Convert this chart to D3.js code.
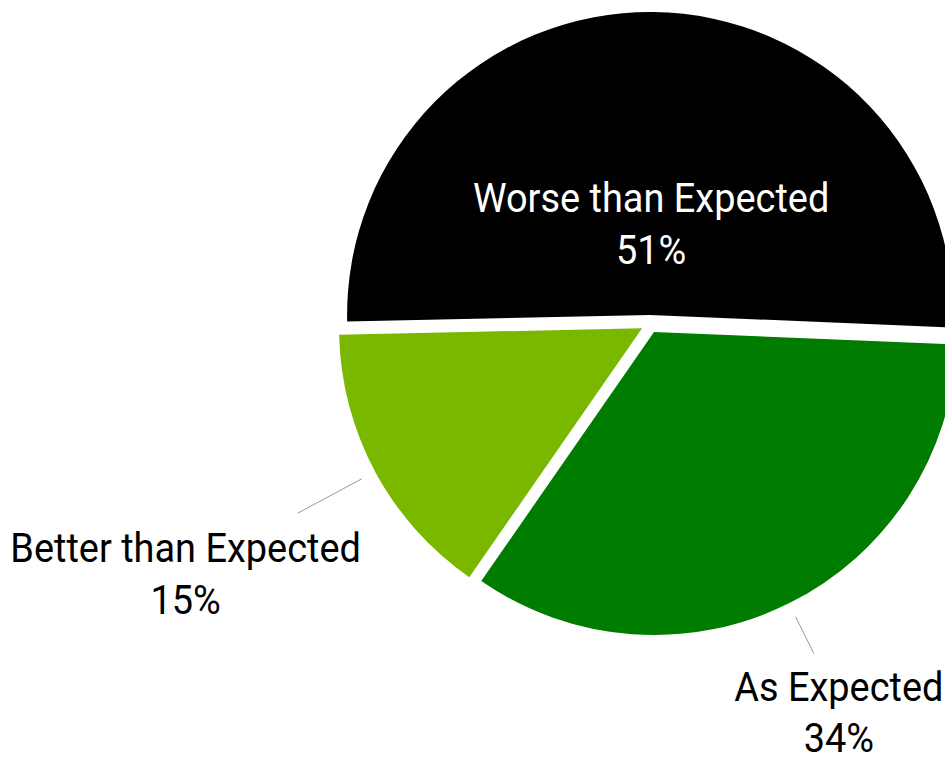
<!DOCTYPE html>
<html>
<head>
<meta charset="utf-8">
<script src="https://d3js.org/d3.v7.min.js"></script>
<style>
  body { margin: 0; background: #fff; }
  svg { display: block; }
</style>
</head>
<body>
<div id="pie-chart"></div>
<script>
// data
var categories = ["Worse than Expected", "As Expected", "Better than Expected"];
var shares = [51, 34, 15];
var colors = ["#000000", "#007c00", "#7ab800"];

var width = 945,
    height = 762;

var cx = 650, cy = 324,
    radius = 303,
    pull = 9,
    fontSize = 40,
    squeeze = 0.948;   // the original face is a little narrower than Roboto

var svg = d3.select("#pie-chart").append("svg")
    .attr("width", width)
    .attr("height", height)
    .style("font-family", "Roboto, sans-serif");

var pie = d3.pie()
    .sort(null)
    .value(function(d) { return d.value; })
    .startAngle(-91.24 * Math.PI / 180)
    .endAngle(268.76 * Math.PI / 180);

var arc = d3.arc()
    .innerRadius(0)
    .outerRadius(radius);

var data = categories.map(function(c, i) {
  return {name: c, value: shares[i], color: colors[i]};
});

var arcs = pie(data);

function midAngle(a) { return (a.startAngle + a.endAngle) / 2; }
function polar(r, ang) { return [Math.sin(ang) * r, -Math.cos(ang) * r]; }

var g = svg.append("g")
    .attr("transform", "translate(" + cx + "," + cy + ")");

var slice = g.selectAll(".slice")
    .data(arcs)
  .enter().append("g")
    .attr("class", "slice")
    .attr("transform", function(a) {
      var p = polar(pull, midAngle(a));
      return "translate(" + p[0] + "," + p[1] + ")";
    });

slice.append("path")
    .attr("d", arc)
    .style("fill", function(a) { return a.data.color; });

// inside label for the big slice, outside labels with leader lines for the rest
// [line start r, line end r, text dx, text dy]
var leader = {"As Expected": [327, 368, 25, 47], "Better than Expected": [327, 400, -112, 49]};

arcs.forEach(function(a) {
  var ang = midAngle(a);
  var lines = [a.data.name, a.data.value + "%"];
  var tx, ty, fill;
  if (leader[a.data.name]) {
    var L = leader[a.data.name];
    var p0 = polar(L[0], ang), p1 = polar(L[1], ang);
    g.append("line")
        .attr("x1", p0[0]).attr("y1", p0[1])
        .attr("x2", p1[0]).attr("y2", p1[1])
        .style("stroke", "#999")
        .style("stroke-width", 1);
    tx = p1[0] + L[2];
    ty = p1[1] + L[3];
    fill = "#000";
  } else {
    var p = polar(pull + 103, ang);
    tx = p[0];
    ty = p[1];
    fill = "#fff";
  }
  var t = g.append("text")
      .attr("text-anchor", "middle")
      .attr("transform", "translate(" + tx + "," + ty + ") scale(" + squeeze + ",1)")
      .style("font-size", fontSize + "px")
      .style("fill", fill);
  t.selectAll("tspan")
      .data(lines)
    .enter().append("tspan")
      .attr("x", 0)
      .attr("y", function(d, i) { return i * 52; })
      .text(function(d) { return d; });
});
</script>
</body>
</html>
